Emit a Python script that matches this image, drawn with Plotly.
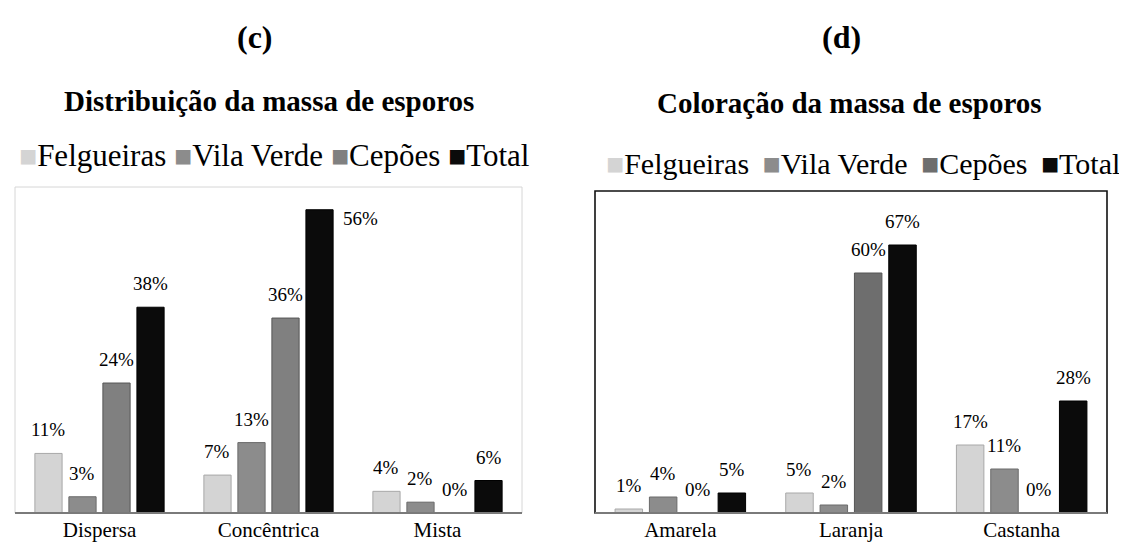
import plotly.graph_objects as go

# ---------------- data ----------------
series = ["Felgueiras", "Vila Verde", "Cepões", "Total"]

cats_c = ["Dispersa", "Concêntrica", "Mista"]
felgueiras_c = [11, 7, 4]
vilaverde_c = [3, 13, 2]
cepoes_c = [24, 36, 0]
total_c = [38, 56, 6]

cats_d = ["Amarela", "Laranja", "Castanha"]
felgueiras_d = [1, 5, 17]
vilaverde_d = [4, 2, 11]
cepoes_d = [0, 60, 0]
total_d = [5, 67, 28]

panel_letters = ["(c)", "(d)"]
panel_titles = ["Distribuição da massa de esporos", "Coloração da massa de esporos"]

# ---------------- style ----------------
W, H = 1127, 543
FONT = "Liberation Serif"
colors_c = ["#d4d4d4", "#8c8c8c", "#808080", "#0b0b0b"]
colors_d = ["#d4d4d4", "#8c8c8c", "#6e6e6e", "#0b0b0b"]
line_cols = ["#a8a8a8", "#6a6a6a", "#555555", "#000000"]
BARGAP = 0.195
GROUPGAP = 0.2

# pixel boxes of the two plot areas (left, right, top, bottom)
boxes = [(7, 514, 179, 505), (587, 1099, 183, 505)]
yranges = [60.2, 80.5]
letter_pos = [(247, 29), (833, 29)]
title_pos = [(261, 93), (841, 95)]
# legend anchor x, anchor side, y, separator, font size
legend_pos = [(266, "center", 147, "&nbsp;", 31), (1114, "right", 155, "&nbsp;&#8201;", 30)]

fig = go.Figure()

data_c = [felgueiras_c, vilaverde_c, cepoes_c, total_c]
data_d = [felgueiras_d, vilaverde_d, cepoes_d, total_d]

for i, name in enumerate(series):
    fig.add_trace(go.Bar(
        x=cats_c, y=data_c[i], name=name, xaxis="x", yaxis="y",
        marker=dict(color=colors_c[i], line=dict(color=line_cols[i], width=1)),
        showlegend=False, hoverinfo="skip"))
for i, name in enumerate(series):
    fig.add_trace(go.Bar(
        x=cats_d, y=data_d[i], name=name, xaxis="x2", yaxis="y2",
        marker=dict(color=colors_d[i], line=dict(color=line_cols[i], width=1)),
        showlegend=False, hoverinfo="skip"))

annotations = []
shapes = []
axis_names = [("x", "y"), ("x2", "y2")]
all_data = [(cats_c, data_c), (cats_d, data_d)]
all_colors = [colors_c, colors_d]
for p, (l, r, t, b) in enumerate(boxes):
    xa, ya = axis_names[p]
    cats, dat = all_data[p]
    plot_w = r - l
    plot_h = b - t
    cat_w = plot_w / len(cats)
    slot = cat_w * (1 - BARGAP) / len(series)
    bar_w = slot * (1 - GROUPGAP)
    for s in range(len(series)):
        xs = (s - (len(series) - 1) / 2) * slot
        for c, cat in enumerate(cats):
            v = dat[s][c]
            bar_px = v / yranges[p] * plot_h
            if bar_px + 42 > plot_h:
                annotations.append(dict(
                    x=cat, y=v, xref=xa, yref=ya, text=f"{v}%", showarrow=False,
                    xanchor="left", yanchor="top", xshift=xs + bar_w / 2 + 8, yshift=4,
                    font=dict(family=FONT, size=19, color="black")))
            else:
                annotations.append(dict(
                    x=cat, y=v, xref=xa, yref=ya, text=f"{v}%", showarrow=False,
                    xanchor="center", yanchor="bottom", xshift=xs, yshift=11,
                    font=dict(family=FONT, size=19, color="black")))
    lx, ly = letter_pos[p]
    annotations.append(dict(x=lx / W, y=1 - ly / H, xref="paper", yref="paper",
                            text=f"<b>{panel_letters[p]}</b>", showarrow=False,
                            xanchor="center", yanchor="middle",
                            font=dict(family=FONT, size=32, color="black")))
    tx, ty = title_pos[p]
    annotations.append(dict(x=tx / W, y=1 - ty / H, xref="paper", yref="paper",
                            text=f"<b>{panel_titles[p]}</b>", showarrow=False,
                            xanchor="center", yanchor="middle",
                            font=dict(family=FONT, size=29, color="black")))
    # legend as a single line of text with coloured square glyphs
    gx, ganchor, gy, sep, gsize = legend_pos[p]
    parts = []
    for s, name in enumerate(series):
        parts.append(f"<span style='color:{all_colors[p][s]};font-size:30px'>■</span>{name}")
    annotations.append(dict(x=gx / W, y=1 - gy / H, xref="paper", yref="paper",
                            text=sep.join(parts), showarrow=False,
                            xanchor=ganchor, yanchor="middle",
                            font=dict(family=FONT, size=gsize, color="black")))
    # frame
    shapes.append(dict(type="rect", xref=f"{xa} domain", yref=f"{ya} domain",
                       x0=0, x1=1, y0=0, y1=1,
                       line=dict(color="#d6d6d6" if p == 0 else "#111111",
                                 width=1 if p == 0 else 1.6)))
    shapes.append(dict(type="line", xref=f"{xa} domain", yref=f"{ya} domain",
                       x0=0, x1=1, y0=0, y1=0,
                       line=dict(color="#7a7a7a", width=2)))

def xaxis_cfg(l, r):
    return dict(domain=[l / W, r / W], showgrid=False, zeroline=False, showline=False,
                ticks="", ticklabelstandoff=2,
                tickfont=dict(family=FONT, size=21, color="black"),
                fixedrange=True)

def yaxis_cfg(t, b, rng):
    return dict(domain=[1 - b / H, 1 - t / H], range=[0, rng], visible=False,
                showgrid=False, zeroline=False, fixedrange=True)

fig.update_layout(
    width=W, height=H, margin=dict(l=0, r=0, t=0, b=0),
    paper_bgcolor="white", plot_bgcolor="white",
    barmode="group", bargap=BARGAP, bargroupgap=GROUPGAP,
    xaxis=xaxis_cfg(*boxes[0][:2]), yaxis=yaxis_cfg(boxes[0][2], boxes[0][3], yranges[0]),
    xaxis2=xaxis_cfg(*boxes[1][:2]), yaxis2=yaxis_cfg(boxes[1][2], boxes[1][3], yranges[1]),
    showlegend=False,
    annotations=annotations, shapes=shapes,
)

fig.write_html("out.html")
